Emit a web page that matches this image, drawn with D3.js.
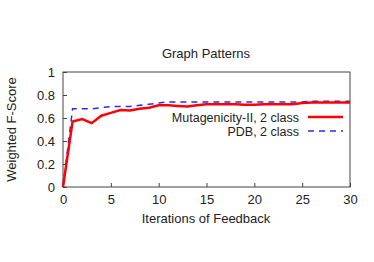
<!DOCTYPE html>
<html>
<head>
<meta charset="utf-8">
<script src="https://cdn.jsdelivr.net/npm/d3@7"></script>
<style>
  body { margin: 0; background: #fff; }
  text { font-family: "Liberation Sans", Arial, sans-serif; fill: #222; }
</style>
</head>
<body>
<div id="chart"></div>
<script>
var iterations = d3.range(0, 31);
var mutagenicity = [0, 0.57, 0.59, 0.555, 0.62, 0.645, 0.67, 0.665, 0.68, 0.69, 0.71,
  0.71, 0.705, 0.70, 0.71, 0.72, 0.72, 0.72, 0.72, 0.715, 0.715,
  0.72, 0.72, 0.72, 0.72, 0.73, 0.735, 0.735, 0.735, 0.735, 0.735];
var pdb = [0, 0.68, 0.68, 0.68, 0.69, 0.70, 0.70, 0.70, 0.71, 0.72, 0.73,
  0.74, 0.74, 0.74, 0.74, 0.74, 0.74, 0.74, 0.74, 0.74, 0.74,
  0.74, 0.74, 0.74, 0.74, 0.74, 0.745, 0.745, 0.745, 0.745, 0.745];
var xTicks = [0, 5, 10, 15, 20, 25, 30];
var yTicks = [0, 0.2, 0.4, 0.6, 0.8, 1];

var width = 374, height = 262;
var mLeft = 63, mRight = 350, mTop = 72, mBottom = 187;

var x = d3.scaleLinear().domain([0, 30]).range([mLeft, mRight]);
var y = d3.scaleLinear().domain([0, 1]).range([mBottom, mTop]);

var svg = d3.select('#chart').append('svg')
    .attr('width', width)
    .attr('height', height);

// frame
svg.append('rect')
    .attr('x', mLeft).attr('y', mTop)
    .attr('width', mRight - mLeft).attr('height', mBottom - mTop)
    .attr('fill', 'none').attr('stroke', '#444').attr('stroke-width', 1);

svg.append('g')
    .attr('transform', 'translate(0,' + mBottom + ')')
    .call(d3.axisBottom(x).tickValues(xTicks).tickSize(-4).tickPadding(8).tickFormat(d3.format('d')))
    .call(function(g) { g.select('.domain').remove(); })
    .call(function(g) { g.selectAll('line').attr('stroke', '#444'); })
    .call(function(g) { g.selectAll('text').style('font-size', '13px').attr('fill', '#222'); });

svg.append('g')
    .attr('transform', 'translate(' + mLeft + ',0)')
    .call(d3.axisLeft(y).tickValues(yTicks).tickSize(-4).tickPadding(8).tickFormat(function(d) { return String(+d.toFixed(1)); }))
    .call(function(g) { g.select('.domain').remove(); })
    .call(function(g) { g.selectAll('line').attr('stroke', '#444'); })
    .call(function(g) { g.selectAll('text').style('font-size', '13px').attr('fill', '#222'); });

svg.append('text')
    .attr('x', 206).attr('y', 58)
    .attr('text-anchor', 'middle')
    .style('font-size', '13px')
    .text('Graph Patterns');

svg.append('text')
    .attr('x', 206).attr('y', 223)
    .attr('text-anchor', 'middle')
    .style('font-size', '13px')
    .text('Iterations of Feedback');

svg.append('text')
    .attr('transform', 'translate(16,' + ((mTop + mBottom) / 2) + ') rotate(-90)')
    .attr('text-anchor', 'middle')
    .style('font-size', '13px')
    .text('Weighted F-Score');

var line = d3.line()
    .x(function(d, i) { return x(iterations[i]); })
    .y(function(d) { return y(d); });

svg.append('path')
    .datum(pdb)
    .attr('d', line)
    .attr('fill', 'none')
    .attr('stroke', '#2a2aff')
    .attr('stroke-width', 1.5)
    .attr('stroke-dasharray', '6,5');

svg.append('path')
    .datum(mutagenicity)
    .attr('d', line)
    .attr('fill', 'none')
    .attr('stroke', '#ff0000')
    .attr('stroke-width', 2.5);

// legend
var legend = [
  {label: 'Mutagenicity-II, 2 class', color: '#ff0000', w: 2.5, dash: null, y: 117},
  {label: 'PDB, 2 class', color: '#2a2aff', w: 1.5, dash: '6,5', y: 131}
];
legend.forEach(function(l) {
  svg.append('text')
      .attr('x', 299).attr('y', l.y + 4.5)
      .attr('text-anchor', 'end')
      .style('font-size', '12.5px')
      .text(l.label);
  svg.append('line')
      .attr('x1', 308).attr('x2', 343)
      .attr('y1', l.y).attr('y2', l.y)
      .attr('stroke', l.color)
      .attr('stroke-width', l.w)
      .attr('stroke-dasharray', l.dash);
});
</script>
</body>
</html>
